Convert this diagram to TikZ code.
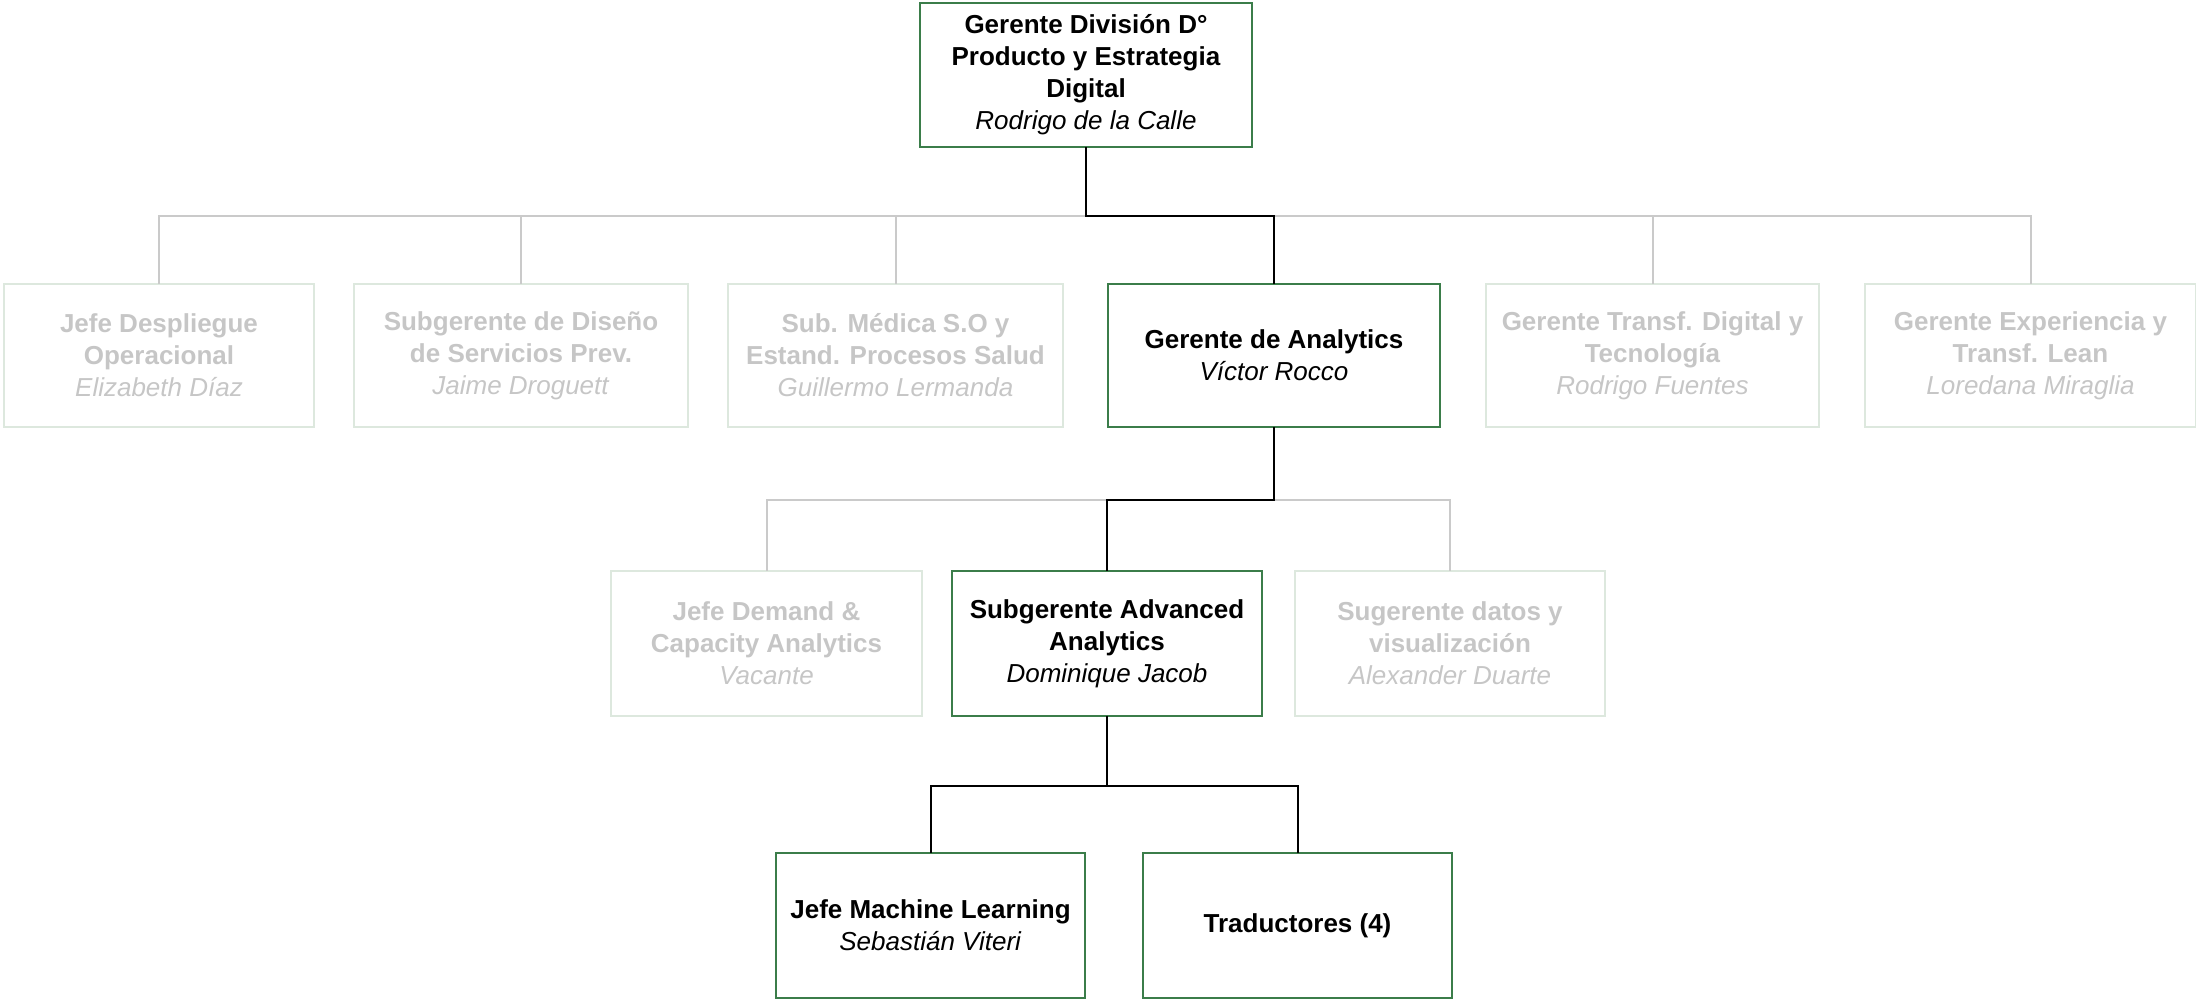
\documentclass[tikz,border=0pt]{standalone}
\usepackage{fontspec}
\setmainfont{Liberation Sans}
\definecolor{grn}{HTML}{3B7D4A}
\definecolor{lgb}{HTML}{DDE8DE}
\definecolor{gtx}{HTML}{C6C6C6}
\definecolor{gln}{HTML}{CACACA}
\tikzset{
  base/.style={draw, rectangle, inner sep=0pt, outer sep=0pt, align=center,
    font=\fontsize{13}{16}\selectfont, line width=1pt},
  act/.style={base, draw=grn, text=black},
  ina/.style={base, draw=lgb, text=gtx},
  blk/.style={draw=black, line width=1pt},
  gry/.style={draw=gln, line width=1pt},
}
\begin{document}
\begin{tikzpicture}[x=0.5pt,y=-0.5pt]
\useasboundingbox (0,0) rectangle (2196,999);
% nodes
\node[act, minimum width=166pt, minimum height=72pt] (top) at (1086,75)
  {\textbf{Gerente División D°}\\\textbf{Producto y Estrategia}\\\textbf{Digital}\\\textit{Rodrigo de la Calle}};
\node[ina, minimum width=155pt, minimum height=71.5pt] (b1) at (159,355.5)
  {\textbf{Jefe Despliegue}\\\textbf{Operacional}\\\textit{Elizabeth Díaz}};
\node[ina, minimum width=167pt, minimum height=71.5pt] (b2) at (521,355.5)
  {\textbf{Subgerente de Diseño}\\\textbf{de Servicios Prev.}\\\textit{Jaime Droguett}};
\node[ina, minimum width=167.5pt, minimum height=71.5pt] (b3) at (895.5,355.5)
  {\textbf{Sub. Médica S.O y}\\\textbf{Estand. Procesos Salud}\\\textit{Guillermo Lermanda}};
\node[act, minimum width=166pt, minimum height=71.5pt] (ana) at (1274,355.5)
  {\textbf{Gerente de Analytics}\\\textit{Víctor Rocco}};
\node[ina, minimum width=166.5pt, minimum height=71.5pt] (b5) at (1652.5,355.5)
  {\textbf{Gerente Transf. Digital y}\\\textbf{Tecnología}\\\textit{Rodrigo Fuentes}};
\node[ina, minimum width=165.5pt, minimum height=71.5pt] (b6) at (2030.5,355.5)
  {\textbf{Gerente Experiencia y}\\\textbf{Transf. Lean}\\\textit{Loredana Miraglia}};
\node[ina, minimum width=155.5pt, minimum height=72.5pt] (b7) at (766.5,643.5)
  {\textbf{Jefe Demand \&}\\\textbf{Capacity Analytics}\\\textit{Vacante}};
\node[act, minimum width=155pt, minimum height=72.5pt] (sub) at (1107,643.5)
  {\textbf{Subgerente Advanced}\\\textbf{Analytics}\\\textit{Dominique Jacob}};
\node[ina, minimum width=155pt, minimum height=72.5pt] (b9) at (1450,643.5)
  {\textbf{Sugerente datos y}\\\textbf{visualización}\\\textit{Alexander Duarte}};
\node[act, minimum width=154.5pt, minimum height=72.5pt] (ml) at (930.5,925.5)
  {\textbf{Jefe Machine Learning}\\\textit{Sebastián Viteri}};
\node[act, minimum width=154.5pt, minimum height=72.5pt] (tr) at (1297.5,925.5)
  {\textbf{Traductores (4)}};
% bus coordinates
\coordinate (bus1) at (0,216);
\coordinate (bus2) at (0,500);
\coordinate (bus3) at (0,786);
% gray connectors
\draw[gry] (b1.north) -- (b1.north |- bus1) -- (b6.north |- bus1) -- (b6.north);
\draw[gry] (b2.north) -- (b2.north |- bus1);
\draw[gry] (b3.north) -- (b3.north |- bus1);
\draw[gry] (b5.north) -- (b5.north |- bus1);
\draw[gry] (b7.north) -- (b7.north |- bus2) -- (b9.north |- bus2) -- (b9.north);
% black connectors
\draw[blk] (top.south) -- (top.south |- bus1) -| (ana.north);
\draw[blk] (ana.south) -- (ana.south |- bus2) -| (sub.north);
\draw[blk] (sub.south) -- (sub.south |- bus3) -| (ml.north);
\draw[blk] (sub.south |- bus3) -| (tr.north);
\end{tikzpicture}
\end{document}
